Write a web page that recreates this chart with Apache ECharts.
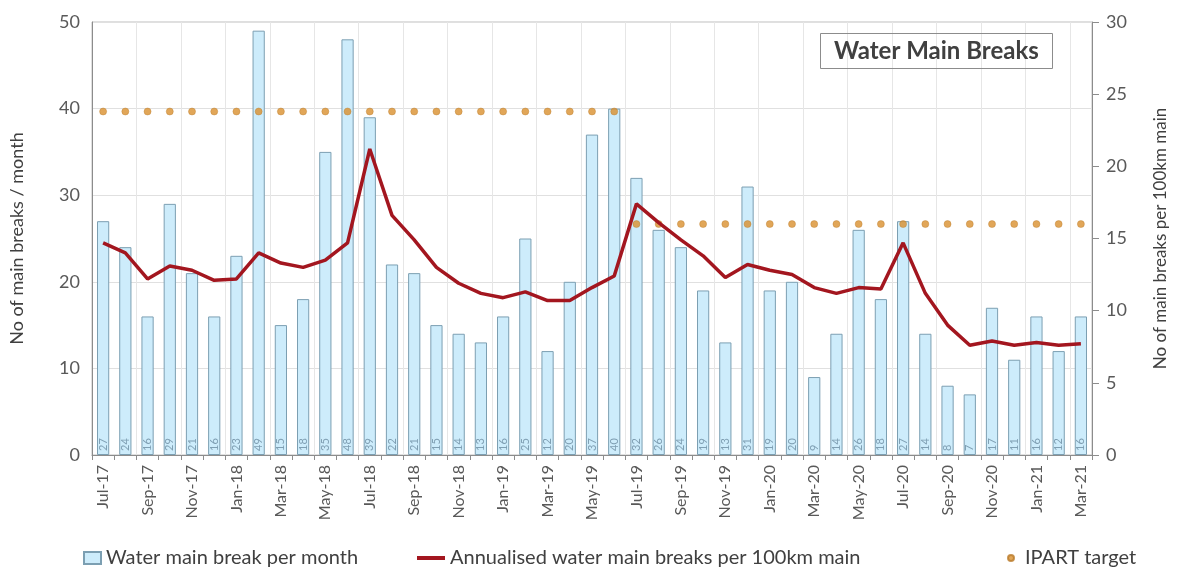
<!DOCTYPE html>
<html>
<head>
<meta charset="utf-8">
<script src="https://cdn.jsdelivr.net/npm/echarts@6/dist/echarts.min.js"></script>
<style>
  html, body { margin: 0; padding: 0; background: #fff; }
  #chart { width: 1177px; height: 573px; }
</style>
</head>
<body>
<div id="chart"></div>
<script>
// Monthly water main breaks, Jul-17 to Mar-21
const months = [
  'Jul-17','Aug-17','Sep-17','Oct-17','Nov-17','Dec-17',
  'Jan-18','Feb-18','Mar-18','Apr-18','May-18','Jun-18','Jul-18','Aug-18','Sep-18','Oct-18','Nov-18','Dec-18',
  'Jan-19','Feb-19','Mar-19','Apr-19','May-19','Jun-19','Jul-19','Aug-19','Sep-19','Oct-19','Nov-19','Dec-19',
  'Jan-20','Feb-20','Mar-20','Apr-20','May-20','Jun-20','Jul-20','Aug-20','Sep-20','Oct-20','Nov-20','Dec-20',
  'Jan-21','Feb-21','Mar-21'
];

const breaksPerMonth = [
  27, 24, 16, 29, 21, 16,
  23, 49, 15, 18, 35, 48, 39, 22, 21, 15, 14, 13,
  16, 25, 12, 20, 37, 40, 32, 26, 24, 19, 13, 31,
  19, 20, 9, 14, 26, 18, 27, 14, 8, 7, 17, 11,
  16, 12, 16
];

const annualisedPer100km = [
  14.7, 14.0, 12.2, 13.1, 12.8, 12.1,
  12.2, 14.0, 13.3, 13.0, 13.5, 14.7, 21.2, 16.6, 14.9, 13.0, 11.9, 11.2,
  10.9, 11.3, 10.7, 10.7, 11.6, 12.4, 17.4, 16.1, 14.9, 13.8, 12.3, 13.2,
  12.8, 12.5, 11.6, 11.2, 11.6, 11.5, 14.7, 11.2, 9.0, 7.6, 7.9, 7.6,
  7.8, 7.6, 7.7
];

const ipartTarget = [
  23.8, 23.8, 23.8, 23.8, 23.8, 23.8,
  23.8, 23.8, 23.8, 23.8, 23.8, 23.8, 23.8, 23.8, 23.8, 23.8, 23.8, 23.8,
  23.8, 23.8, 23.8, 23.8, 23.8, 23.8, 16, 16, 16, 16, 16, 16,
  16, 16, 16, 16, 16, 16, 16, 16, 16, 16, 16, 16,
  16, 16, 16
];

const leftTicks = [0, 10, 20, 30, 40, 50];
const rightTicks = [0, 5, 10, 15, 20, 25, 30];

const FONT = 'Lato, "Open Sans", sans-serif';
const TXT = '#595959';

const chart = echarts.init(document.getElementById('chart'));

const legendBase = {
  bottom: 0,
  textStyle: { fontFamily: FONT, fontSize: 20, color: '#404040' },
  selectedMode: false,
  itemGap: 0
};

chart.setOption({
  backgroundColor: '#fff',
  animation: false,
  title: {
    text: 'Water Main Breaks',
    left: 820,
    top: 33,
    padding: [6, 14, 6, 14],
    borderColor: '#8c8c8c',
    borderWidth: 1,
    textStyle: { fontFamily: FONT, fontSize: 24, fontWeight: 'bold', color: '#404040' }
  },
  legend: [
    Object.assign({}, legendBase, {
      left: 78,
      itemWidth: 17, itemHeight: 12,
      data: [{ name: 'Water main break per month', icon: 'rect' }]
    }),
    Object.assign({}, legendBase, {
      left: 412,
      itemWidth: 28, itemHeight: 4,
      data: [{ name: 'Annualised water main breaks per 100km main', icon: 'rect' }]
    }),
    Object.assign({}, legendBase, {
      left: 1002,
      itemWidth: 18, itemHeight: 6,
      data: [{ name: 'IPART target', icon: 'circle' }]
    })
  ],
  grid: { left: 90, right: 80, top: 22, bottom: 118, show: true, borderColor: '#bfbfbf', borderWidth: 1 },
  xAxis: {
    type: 'category',
    data: months,
    boundaryGap: true,
    axisLine: { lineStyle: { color: '#8c8c8c', width: 1 } },
    axisTick: { show: true, interval: 0, length: 5, lineStyle: { color: '#8c8c8c' } },
    axisLabel: { interval: 1, rotate: 90, fontFamily: FONT, fontSize: 16, color: TXT, margin: 10 },
    splitLine: { show: true, interval: 1, lineStyle: { color: '#e6e6e6' } }
  },
  yAxis: [
    {
      type: 'value',
      min: leftTicks[0], max: leftTicks[leftTicks.length - 1], interval: 10,
      name: 'No of main breaks / month',
      nameLocation: 'middle', nameGap: 66, nameRotate: 90,
      nameTextStyle: { fontFamily: FONT, fontSize: 18, color: '#404040' },
      axisLine: { show: true, lineStyle: { color: '#8c8c8c' } },
      axisTick: { show: false },
      axisLabel: { fontFamily: FONT, fontSize: 18, color: TXT, margin: 12 },
      splitLine: { show: true, lineStyle: { color: '#e0e0e0' } }
    },
    {
      type: 'value',
      min: rightTicks[0], max: rightTicks[rightTicks.length - 1], interval: 5,
      name: 'No of main breaks per 100km main',
      nameLocation: 'middle', nameGap: 60, nameRotate: 90,
      nameTextStyle: { fontFamily: FONT, fontSize: 17, color: '#404040' },
      position: 'right',
      axisLine: { show: true, lineStyle: { color: '#8c8c8c' } },
      axisTick: { show: true, inside: false, length: 7, lineStyle: { color: '#8c8c8c' } },
      axisLabel: { fontFamily: FONT, fontSize: 18, color: TXT, margin: 14 },
      splitLine: { show: false }
    }
  ],
  series: [
    {
      name: 'Water main break per month',
      type: 'bar',
      yAxisIndex: 0,
      data: breaksPerMonth,
      barWidth: '55%',
      itemStyle: { color: '#cdecfb', borderColor: '#7c9fb2', borderWidth: 1 },
      label: {
        show: true,
        position: 'insideBottom',
        rotate: 90,
        align: 'left',
        verticalAlign: 'middle',
        distance: 4,
        fontFamily: FONT,
        fontSize: 11,
        color: '#7f9fb3'
      },
      z: 1
    },
    {
      name: 'Annualised water main breaks per 100km main',
      type: 'line',
      yAxisIndex: 1,
      data: annualisedPer100km,
      symbol: 'none',
      lineStyle: { color: '#a3161f', width: 3.5 },
      itemStyle: { color: '#a3161f' },
      z: 3
    },
    {
      name: 'IPART target',
      type: 'scatter',
      yAxisIndex: 1,
      data: ipartTarget,
      symbol: 'circle',
      symbolSize: 7,
      itemStyle: { color: '#d9902e', borderColor: '#b97a2a', borderWidth: 0.5 },
      z: 2
    }
  ]
});
</script>
</body>
</html>
